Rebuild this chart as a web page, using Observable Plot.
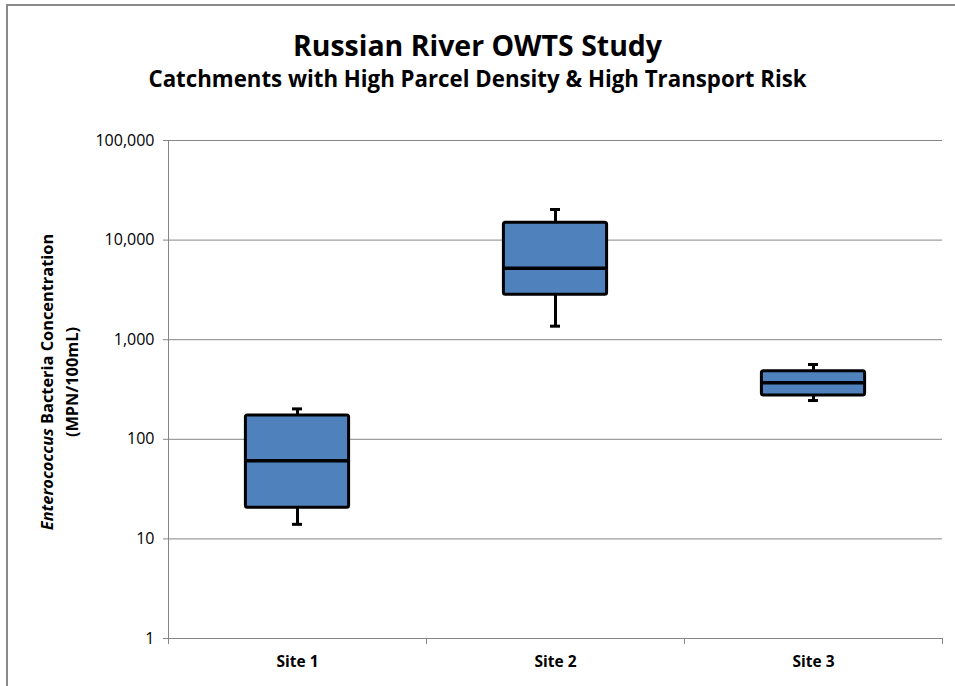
<!DOCTYPE html>
<html><head><meta charset="utf-8">
<script src="https://cdn.jsdelivr.net/npm/d3@7"></script>
<script src="https://cdn.jsdelivr.net/npm/@observablehq/plot@0.6"></script>
<style>
body{margin:0;background:#fff;}
#wrap{position:relative;width:955px;height:686px;overflow:hidden;font-family:"Open Sans",Lato,sans-serif;color:#000;}
#frame{position:absolute;left:6px;top:4px;width:1000px;height:1000px;border-left:2px solid #8a8a8a;border-top:2px solid #8a8a8a;}
#title{position:absolute;left:0;width:955px;top:45px;transform:translateY(-50%);text-align:center;font-weight:bold;font-size:28px;line-height:36px;}
#subtitle{position:absolute;left:0;width:955px;top:79px;transform:translateY(-50%);text-align:center;font-weight:bold;font-size:18px;line-height:24px;}
#ylabel{position:absolute;left:60px;top:382px;transform:translate(-50%,-50%) rotate(-90deg);white-space:nowrap;text-align:center;font-weight:bold;font-size:15px;line-height:25px;}
#chart{position:absolute;left:0;top:0;}
span.m{display:inline-block;white-space:nowrap;}
</style></head>
<body>
<div id="wrap">
  <div id="frame"></div>
  <div id="chart"></div>
  <div id="title"><span class="m" id="t1">Russian River OWTS Study</span></div>
  <div id="subtitle"><span class="m" id="t2">Catchments with High Parcel Density &amp; High Transport Risk</span></div>
  <div id="ylabel"><span class="m" id="t3"><i>Enterococcus</i> Bacteria Concentration</span><br>(MPN/100mL)</div>
</div>
<script>
const sites = ["Site 1", "Site 2", "Site 3"];
const whiskerLow = [14, 1367, 245];
const q1 = [20.5, 2820, 275];
const median = [61, 5220, 369];
const q3 = [173, 14900, 483];
const whiskerHigh = [202, 20300, 564];
const yTicks = [1, 10, 100, 1000, 10000, 100000];

const data = sites.map((s, i) => ({site: s, lo: whiskerLow[i], q1: q1[i], med: median[i], q3: q3[i], hi: whiskerHigh[i]}));

const W = 955, H = 686, ML = 168, MR = 13, MT = 140, MB = 48;
const bandW = (W - ML - MR) / sites.length;
const boxInset = bandW * 0.3;
const capInset = bandW / 2 - 5;
const gray = "#868686";
const font = "'Open Sans', Lato, sans-serif";

function axisLines(index, scales, values, dims) {
  const x = scales.x, y = scales.y;
  const g = d3.create("svg:g").attr("stroke", gray).attr("stroke-width", 1).attr("fill", "none");
  const y0 = y(1), yTop = y(100000);
  g.append("line").attr("x1", dims.marginLeft + 0.5).attr("x2", dims.marginLeft + 0.5).attr("y1", yTop).attr("y2", y0);
  const edges = sites.map(s => x(s)).concat([x(sites[sites.length - 1]) + bandW]);
  edges.forEach(e => {
    g.append("line").attr("x1", Math.round(e) + 0.5).attr("x2", Math.round(e) + 0.5).attr("y1", y0).attr("y2", y0 + 6);
  });
  return g.node();
}

const chart = Plot.plot({
  width: W, height: H,
  marginLeft: ML, marginRight: MR, marginTop: MT, marginBottom: MB,
  style: {fontFamily: font, fontSize: "16px", color: "#000", background: "transparent", overflow: "visible"},
  x: {domain: sites, padding: 0, axis: null},
  y: {type: "log", domain: [1, 100000], axis: null},
  marks: [
    Plot.ruleY(yTicks, {stroke: gray, strokeWidth: 1}),
    Plot.axisY({ticks: yTicks, tickFormat: ",", tickSize: 5, tickPadding: 9, stroke: gray, label: null, fontSize: 16}),
    Plot.axisX({tickSize: 0, tickPadding: 17, label: null, fontSize: 15.5, fontWeight: "bold"}),
    axisLines,
    Plot.ruleX(data, {x: "site", y1: "lo", y2: "hi", stroke: "#000", strokeWidth: 3}),
    Plot.tickY(data, {x: "site", y: "lo", stroke: "#000", strokeWidth: 3, insetLeft: capInset, insetRight: capInset}),
    Plot.tickY(data, {x: "site", y: "hi", stroke: "#000", strokeWidth: 3, insetLeft: capInset, insetRight: capInset}),
    Plot.barY(data, {x: "site", y1: "q1", y2: "q3", fill: "#4f81bd", stroke: "#000", strokeWidth: 3, insetLeft: boxInset, insetRight: boxInset, rx: 2}),
    Plot.tickY(data, {x: "site", y: "med", stroke: "#000", strokeWidth: 3.5, insetLeft: boxInset, insetRight: boxInset})
  ]
});
chart.querySelectorAll("text").forEach(t => t.setAttribute("fill", "#000"));
document.getElementById("chart").appendChild(chart);

// size text blocks to the reference's measured widths
function fit(spanId, boxId, target) {
  const span = document.getElementById(spanId), box = document.getElementById(boxId);
  const fs = parseFloat(getComputedStyle(box).fontSize);
  const w = span.offsetWidth;
  if (w > 0) box.style.fontSize = (fs * target / w).toFixed(2) + "px";
}
fit("t1", "title", 369);
fit("t2", "subtitle", 658);
fit("t3", "ylabel", 297);
</script>
</body></html>
